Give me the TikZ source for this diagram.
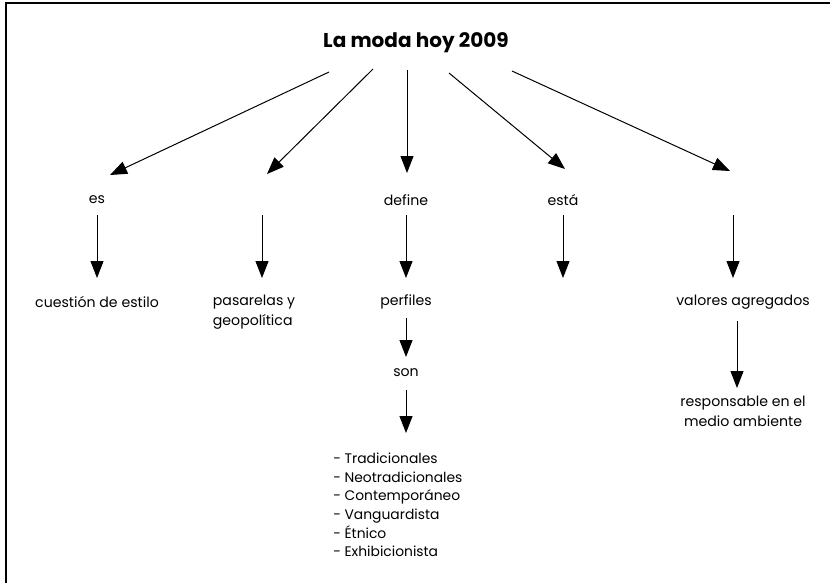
\documentclass[tikz,border=0pt]{standalone}
\usepackage{fontspec}
\setmainfont{Poppins}
\usetikzlibrary{arrows.meta}

\tikzset{
  flecha/.style={-{Triangle[length=12.75pt,width=9.75pt]}, line width=0.75pt},
  texto/.style={inner sep=0pt, font=\fontsize{10.6}{14.8}\selectfont},
  listado/.style={inner sep=0pt, font=\fontsize{10.4}{14}\selectfont},
}

\begin{document}
\begin{tikzpicture}[x=0.75pt,y=-0.75pt]
   	\useasboundingbox (0,0) rectangle (830,583);
   	%Marco (solo lado superior e izquierdo)
   	\draw[line width=1.5pt] (6,583) -- (6,3) -- (830,3);

	%Titulo
   	\node[inner sep=0pt, font=\fontsize{15}{18}\selectfont\bfseries] (titulo) at (416,43) {La moda hoy 2009};

	%Primer nivel
   	\node[texto] (es) at (97,200) {es};
   	\node[texto] (define) at (406,200) {define};
   	\node[texto] (esta) at (563,200) {está};

	%Segundo nivel
   	\node[texto] (cuestion) at (97,302) {cuestión de estilo};
   	\node[texto, align=left] (pasarelas) at (254,312) {pasarelas y\\geopolítica};
   	\node[texto] (perfiles) at (406,302) {perfiles};
   	\node[texto] (valores) at (743,302) {valores agregados};

	%Tercer nivel
   	\node[texto] (son) at (406,373) {son};
   	\node[texto, align=center] (responsable) at (743,411) {responsable en el\\medio ambiente};
   	\node[listado, align=left, anchor=west] (lista) at (333,505)
   		{- Tradicionales\\- Neotradicionales\\- Contemporáneo\\- Vanguardista\\- Étnico\\- Exhibicionista};

	%Puntos de salida y llegada de las flechas
   	\coordinate (s1) at (329,72);  \coordinate (f1) at (110,175);
   	\coordinate (s2) at (373,69);  \coordinate (f2) at (267,174);
   	\coordinate (s3) at (407,70);  \coordinate (f3) at (407,173);
   	\coordinate (s4) at (449,73);  \coordinate (f4) at (565,169);
   	\coordinate (s5) at (512,71);  \coordinate (f5) at (730,171);
   	\coordinate (p1) at (262,215); \coordinate (p2) at (262,278);
   	\coordinate (e1) at (563,215); \coordinate (e2) at (563,278);
   	\coordinate (v1) at (733,215); \coordinate (v2) at (733,278);
   	\coordinate (r1) at (737,321); \coordinate (r2) at (737,388);
   	\coordinate (l1) at (406,390); \coordinate (l2) at (406,433);

	%Flechas desde el titulo
   	\draw[flecha] (s1) -- (f1);
   	\draw[flecha] (s2) -- (f2);
   	\draw[flecha] (s3) -- (f3);
   	\draw[flecha] (s4) -- (f4);
   	\draw[flecha] (s5) -- (f5);

	%Flechas verticales
   	\draw[flecha, shorten <=11.25pt, shorten >=18pt] (es.center) -- (cuestion.center);
   	\draw[flecha] (p1) -- (p2);
   	\draw[flecha, shorten <=11.25pt, shorten >=18pt] (define.center) -- (perfiles.center);
   	\draw[flecha, shorten <=12pt, shorten >=12pt] (perfiles.center) -- (son.center);
   	\draw[flecha] (l1) -- (l2);
   	\draw[flecha] (e1) -- (e2);
   	\draw[flecha] (v1) -- (v2);
   	\draw[flecha] (r1) -- (r2);
\end{tikzpicture}
\end{document}
